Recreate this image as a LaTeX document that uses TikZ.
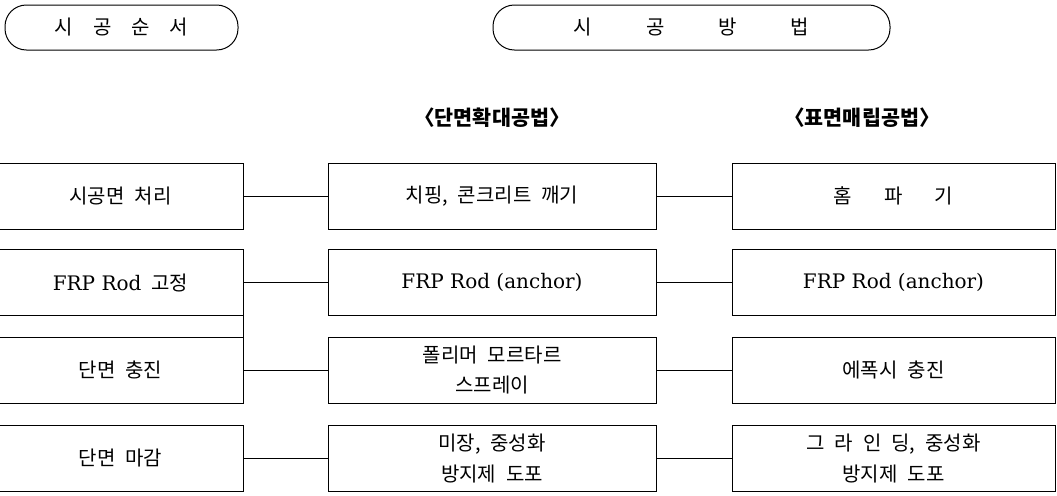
\documentclass[tikz,border=0pt]{standalone}
\usepackage{fontspec}
\setmainfont{DejaVu Serif}
\newfontfamily\kr{Noto Sans CJK KR}
\newfontfamily\lat{DejaVu Serif}
\begin{document}
\begin{tikzpicture}[x=0.75pt,y=-0.75pt,line width=0.75pt,
  box/.style={draw,minimum height=49.5pt,inner sep=0pt,align=center,
    font=\kr\fontsize{15}{23}\selectfont},
  pill/.style={draw,rounded corners=16pt,minimum height=33.75pt,inner sep=0pt,
    font=\kr\fontsize{15}{17}\selectfont},
  head/.style={font=\kr\bfseries\fontsize{15.5}{17}\selectfont}]
\useasboundingbox (0,0) rectangle (1057,496);

% Titles on top
\node[pill,minimum width=174.75pt] (order) at (121.5,27.5)
  {시\hspace{1em}공\hspace{1em}순\hspace{1em}서};
\node[pill,minimum width=297.75pt] (method) at (691.5,27.5)
  {시\hspace{2.7em}공\hspace{2.7em}방\hspace{2.7em}법};

% Names of the two methods
\node[head] (enlarge) at (492,118) {〈단면확대공법〉};
\node[head] (embed) at (862,118) {〈표면매립공법〉};

% Order of work (left column)
\node[box,minimum width=183.75pt] (L1) at (120.5,196) {시공면\hspace{0.5em}처리};
\node[box,minimum width=183.75pt] (L2) at (120.5,282.5) {{\lat FRP Rod}\hspace{0.5em}고정};
\node[box,minimum width=183.75pt] (L3) at (120.5,370) {단면\hspace{0.5em}충진};
\node[box,minimum width=183.75pt] (L4) at (120.5,458.5) {단면\hspace{0.5em}마감};

% Section enlargement method (middle column)
\node[box,minimum width=246pt] (M1) at (492,196) {치핑,\hspace{0.5em}콘크리트\hspace{0.5em}깨기};
\node[box,minimum width=246pt] (M2) at (492,282.5) {\lat FRP Rod (anchor)};
\node[box,minimum width=246pt] (M3) at (492,370) {폴리머\hspace{0.5em}모르타르\\스프레이};
\node[box,minimum width=246pt] (M4) at (492,458.5) {미장,\hspace{0.5em}중성화\\방지제\hspace{0.5em}도포};

% Surface embedding method (right column)
\node[box,minimum width=242.25pt] (R1) at (893.5,196)
  {홈\hspace{1.6em}파\hspace{1.6em}기};
\node[box,minimum width=242.25pt] (R2) at (893.5,282.5) {\lat FRP Rod (anchor)};
\node[box,minimum width=242.25pt] (R3) at (893.5,370) {에폭시\hspace{0.5em}충진};
\node[box,minimum width=242.25pt] (R4) at (893.5,458.5)
  {그\hspace{0.5em}라\hspace{0.5em}인\hspace{0.5em}딩,\hspace{0.5em}중성화\\방지제\hspace{0.5em}도포};

% Connect the rows
\draw (L1) -- (M1);
\draw (M1) -- (R1);
\draw (L2) -- (M2);
\draw (M2) -- (R2);
\draw (L3) -- (M3);
\draw (M3) -- (R3);
\draw (L4) -- (M4);
\draw (M4) -- (R4);

% Rod fixing and filling belong together
\draw (L2.south east) -- (L3.north east);

\end{tikzpicture}
\end{document}
